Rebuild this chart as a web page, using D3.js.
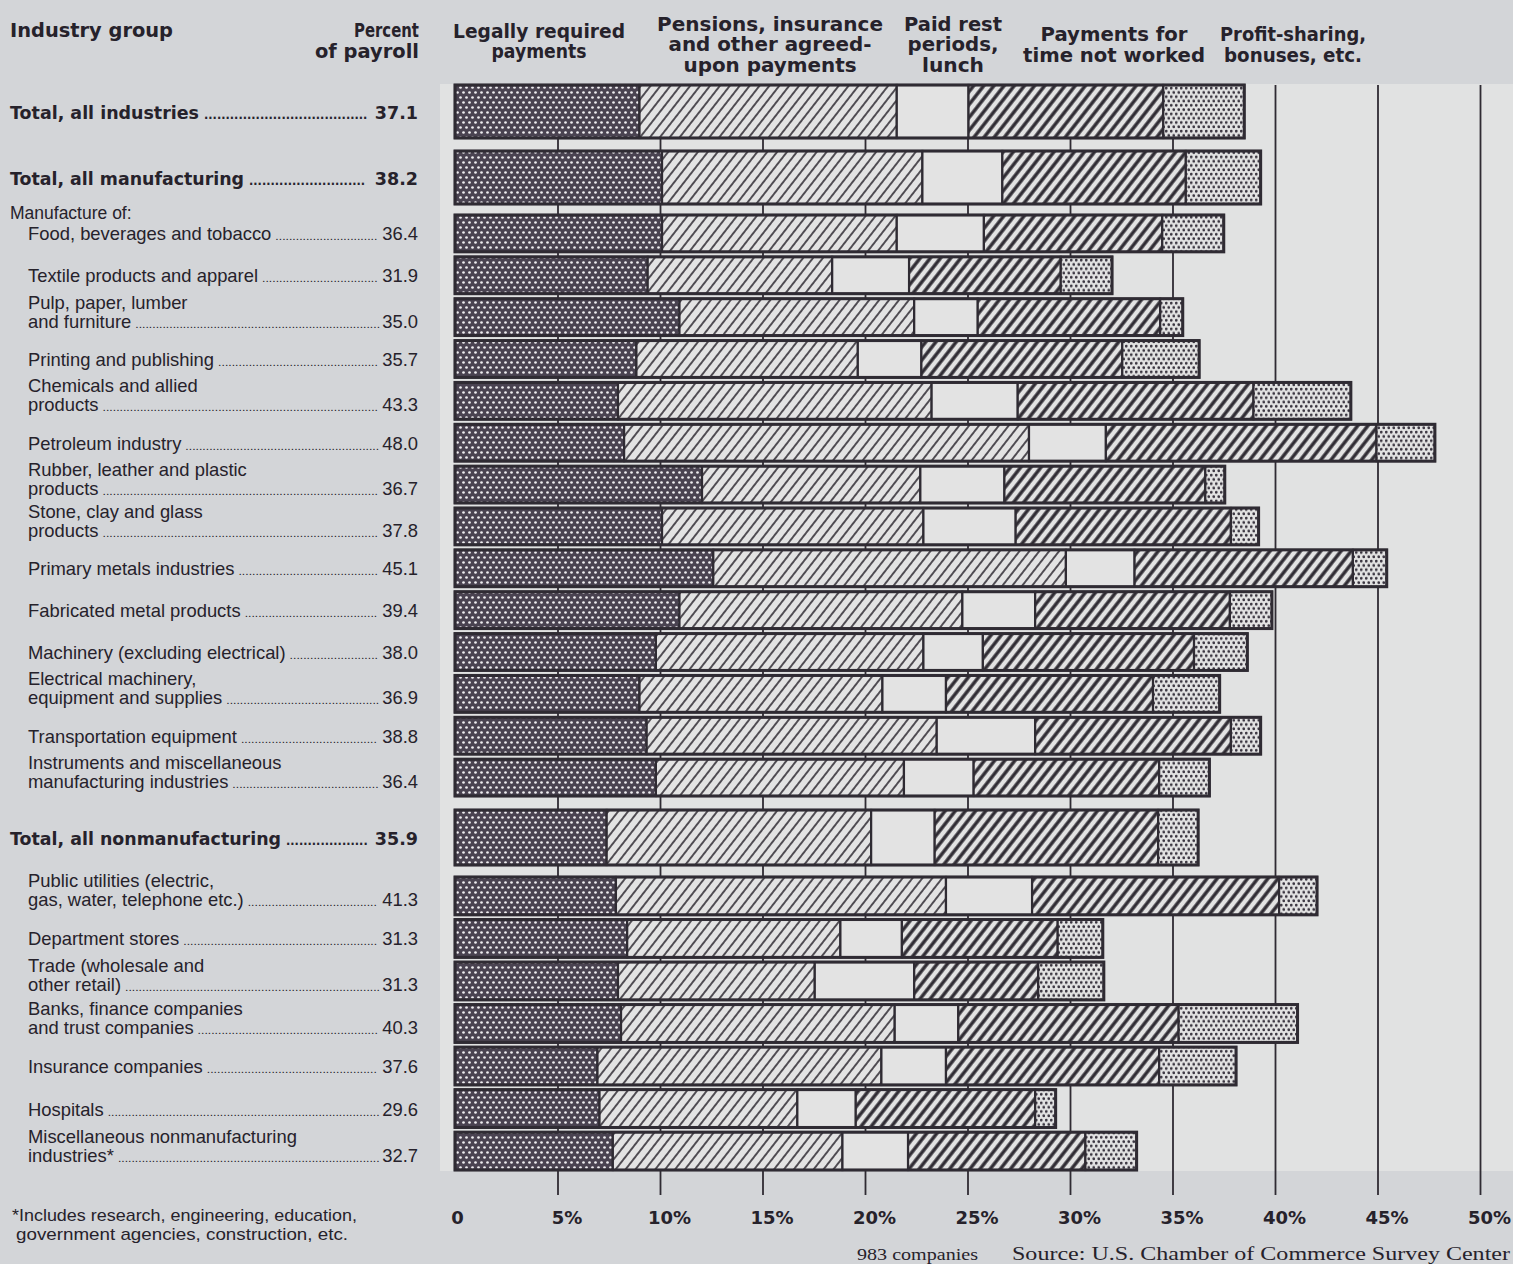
<!DOCTYPE html>
<html><head><meta charset="utf-8">
<script src="https://cdn.jsdelivr.net/npm/d3@7"></script>
<style>
html,body{margin:0;padding:0;background:#d3d5d8;}
svg{display:block;}
</style></head><body>
<svg id="chart" width="1513" height="1264"></svg>
<script>
// ---------------- DATA ----------------
const industries = [
  ["Total, all industries"],
  ["Total, all manufacturing"],
  ["Food, beverages and tobacco"],
  ["Textile products and apparel"],
  ["Pulp, paper, lumber", "and furniture"],
  ["Printing and publishing"],
  ["Chemicals and allied", "products"],
  ["Petroleum industry"],
  ["Rubber, leather and plastic", "products"],
  ["Stone, clay and glass", "products"],
  ["Primary metals industries"],
  ["Fabricated metal products"],
  ["Machinery (excluding electrical)"],
  ["Electrical machinery,", "equipment and supplies"],
  ["Transportation equipment"],
  ["Instruments and miscellaneous", "manufacturing industries"],
  ["Total, all nonmanufacturing"],
  ["Public utilities (electric,", "gas, water, telephone etc.)"],
  ["Department stores"],
  ["Trade (wholesale and", "other retail)"],
  ["Banks, finance companies", "and trust companies"],
  ["Insurance companies"],
  ["Hospitals"],
  ["Miscellaneous nonmanufacturing", "industries*"]
];
const rowGroup = ["all", "mfgTotal", "mfg", "mfg", "mfg", "mfg", "mfg", "mfg", "mfg", "mfg", "mfg", "mfg", "mfg", "mfg", "mfg", "mfg",
  "nonmfgTotal", "nonmfg", "nonmfg", "nonmfg", "nonmfg", "nonmfg", "nonmfg", "nonmfg"];
const percentOfPayroll = ["37.1", "38.2", "36.4", "31.9", "35.0", "35.7", "43.3", "48.0", "36.7", "37.8", "45.1", "39.4", "38.0", "36.9", "38.8", "36.4",
  "35.9", "41.3", "31.3", "31.3", "40.3", "37.6", "29.6", "32.7"];

const legallyRequired = [9.0, 10.1, 10.1, 9.4, 10.95, 8.85, 7.95, 8.25, 12.05, 10.1, 12.6, 10.95, 9.8, 9.0, 9.35, 9.8,
  7.4, 7.85, 8.4, 7.95, 8.1, 6.95, 7.05, 7.7];
const pensionsInsurance = [12.55, 12.7, 11.45, 9.0, 11.45, 10.8, 15.3, 19.75, 10.65, 12.75, 17.2, 13.8, 13.05, 11.85, 14.15, 12.1,
  12.9, 16.1, 10.4, 9.6, 13.35, 13.85, 9.65, 11.2];
const paidRestPeriods = [3.5, 3.9, 4.25, 3.75, 3.1, 3.1, 4.2, 3.75, 4.1, 4.5, 3.35, 3.55, 2.9, 3.1, 4.8, 3.4,
  3.1, 4.2, 3.0, 4.85, 3.1, 3.15, 2.85, 3.2];
const timeNotWorked = [9.5, 8.95, 8.7, 7.4, 8.9, 9.8, 11.5, 13.2, 9.8, 10.5, 10.65, 9.5, 10.3, 10.1, 9.55, 9.05,
  10.9, 12.05, 7.6, 6.05, 10.75, 10.4, 8.75, 8.65];
const profitSharing = [3.95, 3.65, 3.0, 2.5, 1.1, 3.75, 4.75, 2.85, 0.95, 1.35, 1.65, 2.05, 2.6, 3.25, 1.45, 2.45,
  1.95, 1.85, 2.2, 3.2, 5.8, 3.75, 1.0, 2.5];

const seriesKeys = ["legal", "pension", "rest", "notWorked", "profit"];
const seriesHeaders = [
  ["Legally required", "payments"],
  ["Pensions, insurance", "and other agreed-", "upon payments"],
  ["Paid rest", "periods,", "lunch"],
  ["Payments for", "time not worked"],
  ["Profit-sharing,", "bonuses, etc."]
];
const xTicks = [0, 5, 10, 15, 20, 25, 30, 35, 40, 45, 50];
const footnote = ["*Includes research, engineering, education,", "government agencies, construction,  etc."];
const companiesNote = "983 companies";
const sourceNote = "Source: U.S. Chamber of Commerce Survey Center";

// ---------------- LAYOUT ----------------
const svg = d3.select("#chart");
const W = 1513, H = 1264;
const HEAVY = "'DejaVu Sans', 'Roboto', sans-serif";
const REG = "'Liberation Sans', Arial, sans-serif";
const SERIF = "'Liberation Serif', 'DejaVu Serif', serif";
const INK = "#2f2b33";
const TXT = "#26222b";
const LIGHT = "#e3e3e3";

const x = d3.scaleLinear().domain([0, 50]).range([455, 1480]);

const groupLayout = {
  all: { range: [85, 138], pad: 0 },
  mfgTotal: { range: [151, 204], pad: 0 },
  mfg: { range: [215, 796], pad: 0.12 },
  nonmfgTotal: { range: [810, 865], pad: 0 },
  nonmfg: { range: [877, 1170], pad: 0.11 }
};
const bands = {};
Object.keys(groupLayout).forEach(g => {
  const idx = rowGroup.map((r, i) => r === g ? i : -1).filter(i => i >= 0);
  bands[g] = d3.scaleBand().domain(idx).range(groupLayout[g].range).paddingInner(groupLayout[g].pad).paddingOuter(0);
});
const yTop = i => bands[rowGroup[i]](i);
const bandH = i => bands[rowGroup[i]].bandwidth();
const isTotal = i => rowGroup[i] === "all" || rowGroup[i].endsWith("Total");

// ---------------- PATTERNS ----------------
const defs = svg.append("defs");
function dotPattern(id, w, h, bg, fg, r) {
  const p = defs.append("pattern").attr("id", id).attr("patternUnits", "userSpaceOnUse")
    .attr("width", w).attr("height", h);
  p.append("rect").attr("width", w).attr("height", h).attr("fill", bg);
  p.append("circle").attr("cx", w / 4).attr("cy", h / 4).attr("r", r).attr("fill", fg);
  p.append("circle").attr("cx", 3 * w / 4).attr("cy", 3 * h / 4).attr("r", r).attr("fill", fg);
}
function hatchPattern(id, spacing, sw, bg, fg, angle) {
  const p = defs.append("pattern").attr("id", id).attr("patternUnits", "userSpaceOnUse")
    .attr("width", spacing).attr("height", 20).attr("patternTransform", `rotate(${angle})`);
  p.append("rect").attr("width", spacing).attr("height", 20).attr("fill", bg);
  p.append("line").attr("x1", spacing / 2).attr("x2", spacing / 2).attr("y1", 0).attr("y2", 20)
    .attr("stroke", fg).attr("stroke-width", sw);
}
dotPattern("pLegal", 6, 10, "#4a4351", "#efedf0", 1.35);
hatchPattern("pPension", 7.8, 1.6, LIGHT, INK, 38);
hatchPattern("pNotWorked", 8.0, 3.4, LIGHT, INK, 38);
dotPattern("pProfit", 5, 8.6, "#e2e2e2", "#3a3540", 1.4);
const fills = { legal: "url(#pLegal)", pension: "url(#pPension)", rest: LIGHT, notWorked: "url(#pNotWorked)", profit: "url(#pProfit)" };

// ---------------- BACKGROUND PANEL ----------------
svg.append("rect").attr("x", 440).attr("y", 84).attr("width", W - 440).attr("height", 1171 - 84).attr("fill", "#e1e2e2");

// ---------------- GRID / AXIS ----------------
const gridBottom = 1195, gridTop = 85;
const axis = d3.axisBottom(x).tickValues(xTicks).tickSize(-(gridBottom - gridTop)).tickPadding(0)
  .tickFormat(d => d === 0 ? "0" : d + "%");
const gAxis = svg.append("g").attr("transform", `translate(0,${gridBottom})`).call(axis);
gAxis.select(".domain").remove();
gAxis.selectAll(".tick line").attr("stroke", INK).attr("stroke-width", 1.8)
  .attr("display", d => d === 0 ? "none" : null);
gAxis.selectAll(".tick text")
  .attr("font-family", HEAVY).attr("font-weight", "bold").attr("font-size", 18).attr("fill", TXT)
  .attr("y", 29).attr("dy", 0)
  .each(function (d) {
    const t = d3.select(this);
    if (d === 0) { t.attr("dx", 2); return; }
    const tmp = svg.append("text").attr("font-family", HEAVY).attr("font-weight", "bold").attr("font-size", 18).text("%");
    const pw = tmp.node().getComputedTextLength(); tmp.remove();
    t.attr("dx", pw / 2);
  });

// ---------------- BARS ----------------
const rows = industries.map((name, i) => ({
  i, legal: legallyRequired[i], pension: pensionsInsurance[i], rest: paidRestPeriods[i],
  notWorked: timeNotWorked[i], profit: profitSharing[i]
}));
const stacked = d3.stack().keys(seriesKeys)(rows);
const gBars = svg.append("g");
stacked.forEach(layer => {
  gBars.selectAll(null).data(layer).join("rect")
    .attr("x", d => x(d[0])).attr("width", d => x(d[1]) - x(d[0]))
    .attr("y", d => yTop(d.data.i)).attr("height", d => bandH(d.data.i))
    .attr("fill", fills[layer.key]).attr("stroke", INK).attr("stroke-width", 2.2);
});
gBars.selectAll(null).data(rows).join("rect")
  .attr("x", d => x(0)).attr("width", d => x(d3.sum(seriesKeys, k => d[k])) - x(0))
  .attr("y", d => yTop(d.i)).attr("height", d => bandH(d.i))
  .attr("fill", "none").attr("stroke", INK).attr("stroke-width", 3);

// ---------------- HEADERS ----------------
function fitText(sel, w) { sel.attr("textLength", w).attr("lengthAdjust", "spacingAndGlyphs"); return sel; }
function heavyText(txt, xx, yy, anchor, size, w) {
  const t = svg.append("text").attr("x", xx).attr("y", yy).attr("text-anchor", anchor)
    .attr("font-family", HEAVY).attr("font-weight", "bold").attr("font-size", size).attr("fill", TXT).text(txt);
  if (w) fitText(t, w);
  return t;
}
heavyText("Industry group", 10, 37, "start", 19, 163);
heavyText("Percent", 419, 37, "end", 19, 65);
heavyText("of payroll", 419, 58, "end", 19, 104);
const headerSpecs = [
  { cx: 539, ys: [38, 58], ws: [172, 95] },
  { cx: 770, ys: [31, 51, 72], ws: [226, 203, 173] },
  { cx: 953, ys: [31, 51, 72], ws: [98, 91, 62] },
  { cx: 1114, ys: [41, 62], ws: [147, 182] },
  { cx: 1293, ys: [41, 62], ws: [146, 138] }
];
seriesHeaders.forEach((lines, k) => {
  lines.forEach((ln, j) => heavyText(ln, headerSpecs[k].cx, headerSpecs[k].ys[j], "middle", 19, headerSpecs[k].ws[j]));
});

// ---------------- ROW LABELS ----------------
const gLab = svg.append("g");
const boldWidths = { 0: 189, 1: 234, 16: 271 };
function leaderRow(lineTxt, xx, yy, value, total, i) {
  const fam = total ? HEAVY : REG, wt = total ? "bold" : "normal", size = total ? 17.5 : 18.4;
  const t = gLab.append("text").attr("x", xx).attr("y", yy).attr("font-family", fam).attr("font-weight", wt)
    .attr("font-size", size).attr("fill", TXT).text(lineTxt);
  if (total && boldWidths[i]) fitText(t, boldWidths[i]);
  const tl = (total && boldWidths[i]) ? boldWidths[i] : t.node().getComputedTextLength();
  const right = 418;
  const n = gLab.append("text").attr("x", right).attr("y", yy).attr("text-anchor", "end").attr("font-family", fam)
    .attr("font-weight", wt).attr("font-size", size).attr("fill", TXT).text(value);
  const nl = n.node().getComputedTextLength();
  const start = xx + tl + (total ? 5 : 4), end = right - nl - (total ? 6 : 2);
  const pitch = total ? 4.3 : 3.4;
  const count = Math.max(0, Math.floor((end - start) / pitch));
  const dt = gLab.append("text").attr("x", start).attr("y", yy).attr("font-family", fam).attr("font-weight", wt)
    .attr("font-size", total ? 12 : 11).attr("fill", TXT).text(".".repeat(count));
  fitText(dt, count * pitch);
}
industries.forEach((lines, i) => {
  const c = yTop(i) + bandH(i) / 2;
  const total = isTotal(i);
  const xx = total ? 10 : 28;
  if (lines.length === 1) {
    leaderRow(lines[0], xx, c + 7, percentOfPayroll[i], total, i);
  } else {
    gLab.append("text").attr("x", xx).attr("y", c - 8.5).attr("font-family", REG).attr("font-size", 18.4)
      .attr("fill", TXT).text(lines[0]);
    leaderRow(lines[1], xx, c + 10.5, percentOfPayroll[i], total, i);
  }
});
gLab.append("text").attr("x", 10).attr("y", yTop(2) + 4).attr("font-family", REG).attr("font-size", 17.5)
  .attr("fill", TXT).text("Manufacture of:");

// ---------------- FOOTNOTES ----------------
fitText(svg.append("text").attr("x", 12).attr("y", 1221).attr("font-family", REG).attr("font-size", 17)
  .attr("fill", TXT).text(footnote[0]), 345);
fitText(svg.append("text").attr("x", 16).attr("y", 1240).attr("font-family", REG).attr("font-size", 17)
  .attr("fill", TXT).text(footnote[1]), 332);
fitText(svg.append("text").attr("x", 857).attr("y", 1260).attr("font-family", SERIF).attr("font-size", 17)
  .attr("fill", TXT).text(companiesNote), 121);
fitText(svg.append("text").attr("x", 1012).attr("y", 1260).attr("font-family", SERIF).attr("font-size", 19)
  .attr("fill", TXT).text(sourceNote), 498);
</script>
</body></html>
